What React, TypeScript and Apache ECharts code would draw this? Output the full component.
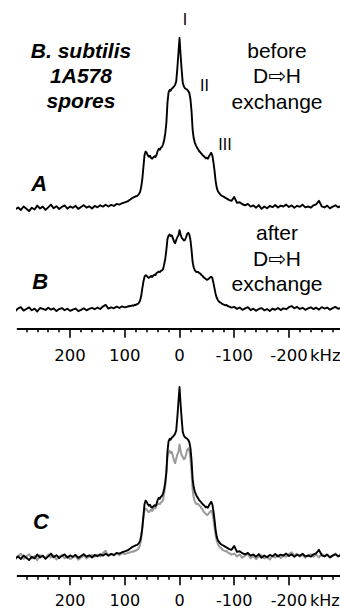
import React, { useEffect, useRef } from "react";
import * as echarts from "echarts";

// ---- frequency axis samples (kHz) ----
const freqLeft = [
  305, 300, 295, 290, 285, 280, 275, 270, 265, 260,
  255, 250, 245, 240, 235, 230, 225, 220, 215, 210,
  205, 200, 195, 190, 185, 180, 175, 170, 165, 160,
  155, 150, 145, 140, 135, 130, 125, 120, 115, 110,
  105, 100, 95, 90,
];
const freqCenter = [
  88, 86, 84, 82, 80, 78, 76, 74, 72, 70,
  68, 66, 64, 62, 60, 58, 56, 54, 52, 50,
  48, 46, 44, 42, 40, 38, 36, 34, 32, 30,
  28, 26, 24, 22, 20, 18, 16, 14, 12, 10,
  8, 6, 4, 2, 0, -2, -4, -6, -8, -10,
  -12, -14, -16, -18, -20, -22, -24, -26, -28, -30,
  -32, -34, -36, -38, -40, -42, -44, -46, -48, -50,
  -52, -54, -56, -58, -60, -62, -64, -66, -68, -70,
  -72, -74, -76, -78, -80, -82, -84, -86, -88,
];
const freqRight = [
  -90, -95, -100, -105, -110, -115, -120, -125, -130, -135,
  -140, -145, -150, -155, -160, -165, -170, -175, -180, -185,
  -190, -195, -200, -205, -210, -215, -220, -225, -230, -235,
  -240, -245, -250, -255, -260, -265, -270, -275, -280, -285,
  -290, -295, -300,
];

// ---- spectrum before D->H exchange (A, and black in C) ----
const beforeLeft = [
  0.5, -0.8, 0.3, -1.2, 0.9, -0.4, -1.8, 0.2, -0.9, 1.4,
  -0.3, 0.8, -1.1, 0.4, 2.0, -0.2, 1.1, -0.6, 0.7, 1.5,
  -0.4, 0.9, 0.1, 1.3, -0.5, 0.6, 1.7, 0.2, 1.0, -0.3,
  1.2, 0.4, 1.6, 0.8, 1.9, 0.9, 1.8, 1.2, 2.4, 2.0,
  2.8, 3.3, 3.9, 5.0,
];
const beforeCenter = [
  5.5, 6.0, 6.3, 6.6, 6.9, 7.0, 7.6, 8.3, 9.5, 12.5,
  17.0, 24.0, 31.0, 33.2, 32.5, 31.0, 30.2, 30.8, 29.4, 29.0,
  29.8, 30.4, 30.0, 31.2, 33.5, 34.8, 34.2, 35.5, 36.0, 37.5,
  40.0, 44.0, 50.0, 62.0, 68.0, 69.5, 69.0, 70.3, 70.8, 71.5,
  72.5, 74.5, 82.0, 91.0, 100, 90.0, 81.0, 73.5, 71.5, 70.5,
  70.0, 69.6, 68.8, 67.5, 64.0, 57.0, 46.0, 41.0, 38.5, 36.8,
  35.5, 34.6, 33.4, 32.8, 32.0, 31.2, 30.6, 30.0, 29.2, 29.6,
  29.0, 30.4, 31.5, 32.5, 31.0, 27.0, 22.0, 16.0, 12.0, 10.0,
  9.0, 8.2, 7.5, 7.0, 6.8, 6.4, 5.9, 5.6, 5.2,
];
const beforeRight = [
  4.8, 4.2, 6.5, 3.0, 3.4, 2.2, 1.6, 2.4, 0.8, 1.5,
  0.2, 1.7, -0.5, 0.9, -0.2, 1.2, 0.5, 1.8, 0.3, 1.4,
  0.9, 2.0, 0.6, 1.5, 0.2, 1.3, 0.7, 1.9, 0.4, 0.9,
  0.2, 1.6, 2.2, 4.2, 1.0, 0.3, 1.4, -0.2, 0.8, 1.6,
  0.4, 1.2, 0.6,
];

// ---- spectrum after D->H exchange (B, and grey in C) ----
const afterLeft = [
  0.5, -1.5, 0.8, 2.0, -1.2, 0.3, 1.8, -0.9, 0.6, -2.0,
  1.2, 0.4, -0.6, 1.5, -0.3, 0.9, -1.6, 0.2, 1.1, -0.8,
  0.5, -1.4, -0.2, 0.7, -1.7, -0.5, 1.0, -0.9, 0.4, 1.3,
  0.1, 1.6, 0.3, 2.5, 4.0, 0.6, 1.8, 0.9, 2.4, 1.2,
  2.6, 1.8, 2.5, 3.0,
];
const afterCenter = [
  3.2, 3.6, 3.3, 4.1, 3.9, 4.6, 5.0, 6.0, 8.0, 12.0,
  19.0, 25.0, 29.5, 31.0, 30.5, 29.2, 28.6, 29.5, 30.2, 29.4,
  30.6, 31.5, 31.0, 33.0, 33.6, 34.2, 33.8, 35.0, 35.4, 36.5,
  41.0, 46.0, 54.0, 64.0, 67.0, 68.0, 66.5, 67.2, 64.5, 61.5,
  60.0, 63.0, 65.5, 67.0, 72.0, 68.0, 65.0, 64.0, 62.5, 63.0,
  65.5, 68.5, 69.5, 68.0, 63.0, 54.0, 43.0, 38.0, 35.5, 34.2,
  33.8, 34.0, 33.0, 32.4, 31.2, 30.5, 29.0, 28.4, 27.6, 26.8,
  27.2, 28.0, 29.0, 29.6, 28.5, 24.0, 19.0, 14.0, 10.5, 8.5,
  7.0, 6.2, 5.8, 4.9, 4.4, 4.0, 3.6, 3.9, 3.0,
];
const afterRight = [
  2.6, 1.5, 2.2, 0.4, 1.6, -0.5, 0.9, 2.0, -0.8, 0.6,
  -1.4, 0.3, 1.1, -0.9, 0.2, -1.6, 0.5, -0.4, 1.2, -0.7,
  0.8, 0.1, 1.9, 3.0, 1.0, 2.1, 0.3, 1.4, -0.5, 0.9,
  1.8, 0.2, 1.5, -0.3, 2.0, 0.7, 1.6, -0.4, 1.1, 2.2,
  0.5, 1.3, 0.2,
];

// ---- axis ticks and labels ----
const majorTicks = [200, 100, 0, -100, -200];
const tickLabels = ["200", "100", "0", "-100", "-200"];
const minorTicks = [
  280, 260, 240, 220, 180, 160, 140, 120, 80, 60, 40, 20,
  -20, -40, -60, -80, -120, -140, -160, -180, -220, -240, -260, -280,
];
const unitLabel = "kHz";

const freq = [...freqLeft, ...freqCenter, ...freqRight];
const before = [...beforeLeft, ...beforeCenter, ...beforeRight];
const after = [...afterLeft, ...afterCenter, ...afterRight];
const pairs = (vals: number[]) => freq.map((f, i) => [f, vals[i]]);

// ---- layout ----
const X_MIN = -300;
const X_MAX = 296;
const ZERO_X = 179.5;
const PX_PER_KHZ = 0.547;
const gridLeft = ZERO_X - X_MAX * PX_PER_KHZ;
const gridWidth = (X_MAX - X_MIN) * PX_PER_KHZ;
const GREY_SCALE = 0.92; // grey overlay in panel C is drawn slightly smaller

const SANS = "'Liberation Sans', Arial, 'DejaVu Sans', sans-serif";
const AXIS_FONT = "'DejaVu Sans', sans-serif";

function visibleAxis(gridIndex: number, offset: number, margin: number, fontSize: number) {
  return {
    type: "value",
    gridIndex,
    min: X_MIN,
    max: X_MAX,
    inverse: true,
    position: "bottom",
    offset,
    axisLine: { show: true, onZero: false, lineStyle: { color: "#000", width: 1.8 } },
    axisTick: {
      show: true,
      customValues: majorTicks,
      length: 9.5,
      lineStyle: { color: "#000", width: 1.6 },
    },
    minorTick: { show: false },
    axisLabel: {
      show: true,
      customValues: majorTicks,
      formatter: (v: number) => {
        const i = majorTicks.indexOf(v);
        return i >= 0 ? tickLabels[i] : "";
      },
      margin,
      lineHeight: 12,
      color: "#000",
      fontSize,
      fontFamily: AXIS_FONT,
    },
    splitLine: { show: false },
  };
}

function minorAxis(gridIndex: number, offset: number) {
  return {
    type: "value",
    gridIndex,
    min: X_MIN,
    max: X_MAX,
    inverse: true,
    position: "bottom",
    offset,
    axisLine: { show: false, onZero: false },
    axisTick: {
      show: true,
      customValues: minorTicks,
      length: 4,
      lineStyle: { color: "#000", width: 1.6 },
    },
    axisLabel: { show: false },
    splitLine: { show: false },
  };
}

function txt(
  text: string,
  x: number,
  y: number,
  fontSize: number,
  opts: { weight?: string; style?: string; lineHeight?: number; align?: string; family?: string } = {}
) {
  return {
    type: "text",
    x,
    y,
    silent: true,
    style: {
      text,
      fill: "#000",
      fontSize,
      fontFamily: opts.family || SANS,
      fontWeight: opts.weight || "normal",
      fontStyle: opts.style || "normal",
      lineHeight: opts.lineHeight || fontSize,
      align: opts.align || "center",
      textAlign: opts.align || "center",
      verticalAlign: "middle",
      textVerticalAlign: "middle",
    },
  };
}

export default function App() {
  const ref = useRef<HTMLDivElement>(null);

  useEffect(() => {
    document.body.style.margin = "0";
    if (!ref.current) return;
    const chart = echarts.init(ref.current, undefined, { renderer: "svg" });

    const lineSeries = (data: any[], xi: number, yi: number, color: string, width: number) => ({
      type: "line",
      xAxisIndex: xi,
      yAxisIndex: yi,
      data,
      symbol: "none",
      showSymbol: false,
      clip: false,
      silent: true,
      lineStyle: { color, width, join: "round", cap: "round" },
    });

    const option: any = {
      animation: false,
      grid: [
        { left: gridLeft, width: gridWidth, top: 21, height: 204, containLabel: false, outerBoundsMode: "none" },
        { left: gridLeft, width: gridWidth, top: 221.3, height: 99, containLabel: false, outerBoundsMode: "none" },
        { left: gridLeft, width: gridWidth, top: 378.5, height: 195.5, containLabel: false, outerBoundsMode: "none" },
      ],
      xAxis: [
        { type: "value", gridIndex: 0, min: X_MIN, max: X_MAX, inverse: true, show: false },
        visibleAxis(1, 8, 21.5, 16.5),
        minorAxis(1, 8),
        visibleAxis(2, 1.7, 18.3, 16),
        minorAxis(2, 1.7),
      ],
      yAxis: [
        { type: "value", gridIndex: 0, min: -10, max: 110, show: false },
        { type: "value", gridIndex: 1, min: -10, max: 80, show: false },
        { type: "value", gridIndex: 2, min: -10, max: 105, show: false },
        { type: "value", gridIndex: 2, min: -10 / GREY_SCALE, max: 105 / GREY_SCALE, show: false },
      ],
      series: [
        lineSeries(pairs(before), 0, 0, "#000", 1.9),
        lineSeries(pairs(after), 1, 1, "#000", 1.9),
        lineSeries(pairs(after), 3, 3, "#9a9a9a", 2),
        lineSeries(pairs(before), 3, 2, "#000", 1.9),
      ],
      graphic: [
        txt("B. subtilis\n1A578\nspores", 81, 75, 21, { weight: "bold", style: "italic", lineHeight: 25 }),
        txt("before\nD\u21E8H\nexchange", 277, 75.5, 21, { lineHeight: 25.5 }),
        txt("after\nD\u21E8H\nexchange", 277, 258.3, 21, { lineHeight: 25.5 }),
        txt("I", 185, 19.5, 16),
        txt("II", 204.5, 85.3, 16),
        txt("III", 225, 144, 16),
        txt("A", 39.3, 183, 22, { weight: "bold", style: "italic" }),
        txt("B", 40.3, 281.3, 22, { weight: "bold", style: "italic" }),
        txt("C", 41, 521, 22, { weight: "bold", style: "italic" }),
        txt(unitLabel, 310, 355.8, 16.5, { align: "left", family: AXIS_FONT, lineHeight: 12 }),
        txt(unitLabel, 310, 600, 16, { align: "left", family: AXIS_FONT, lineHeight: 12 }),
      ],
    };

    chart.setOption(option);
    return () => chart.dispose();
  }, []);

  return <div ref={ref} style={{ width: 340, height: 610 }} />;
}
